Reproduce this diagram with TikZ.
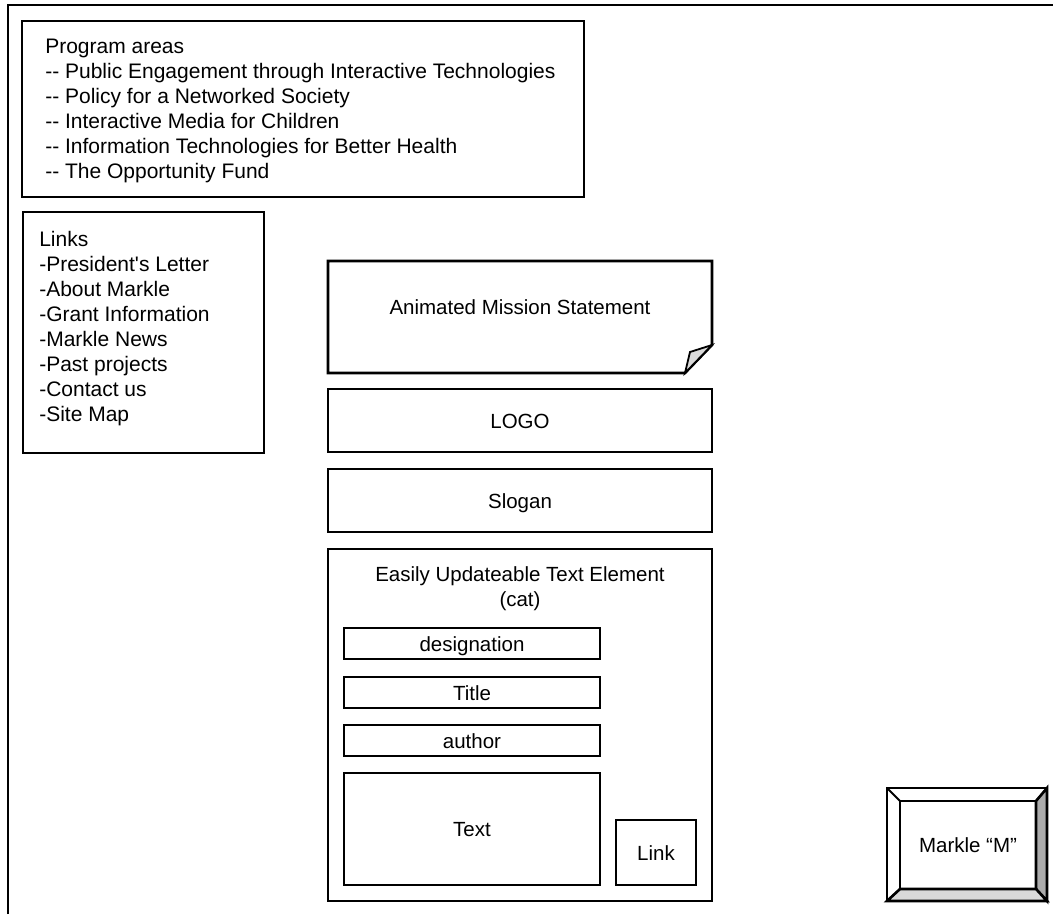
\documentclass[tikz,border=0pt]{standalone}
\usepackage{fontspec}
\setmainfont{Liberation Sans}[Ligatures=TeXOff]
\usetikzlibrary{positioning}
\definecolor{bevelgray}{gray}{0.67}
\definecolor{foldgray}{gray}{0.85}

\begin{document}
\begin{tikzpicture}[x=1pt, y=-1pt, line width=2.6pt,
		box/.style={
			draw,
			rectangle,
			inner sep=0pt,
			outer sep=0pt
		},
		cell/.style={box, text height=15pt, text depth=0pt},
		caption/.style={inner sep=0pt, align=center},
		listfont/.style={font=\fontsize{21}{25}\selectfont},
		every node/.style={font=\fontsize{20.5}{25}\selectfont}]
		\useasboundingbox (0,0) rectangle (1053,914);
		
		\draw (8,914) -- (8,5) -- (1053,5);	% page frame
		
		\node[box, minimum width=562pt, minimum height=176pt] (areas) at (303,109) {};
		\node[caption, listfont, align=left, below right=17pt and 22pt of areas.north west] (arealist) {Program areas\\-- Public Engagement through Interactive Technologies\\-- Policy for a Networked Society\\-- Interactive Media for Children\\-- Information Technologies for Better Health\\-- The Opportunity Fund};
		
		\node[box, minimum width=241pt, minimum height=241pt] (links) at (143.5,332.5) {};
		\node[caption, listfont, align=left, below right=18pt and 15pt of links.north west] (linklist) {Links\\-President's Letter\\-About Markle\\-Grant Information\\-Markle News\\-Past projects\\-Contact us\\-Site Map};
		
		% mission statement, folded corner
		\node[box, draw=none, minimum width=384pt, minimum height=112pt] (mission) at (520,317) {};
		\draw (mission.north west) -- (mission.north east) -- ([yshift=28pt]mission.south east) -- ([xshift=-27pt]mission.south east) -- (mission.south west) -- cycle;
		\draw[fill=foldgray, line width=1.8pt] ([yshift=28pt]mission.south east) -- ([xshift=-22pt, yshift=21pt]mission.south east) -- ([xshift=-27pt]mission.south east) -- cycle;
		\node[caption, below=37pt of mission.north] (missiontext) {Animated Mission Statement};
		
		\node[cell, minimum width=384pt, minimum height=63pt] (logo) at (520,420.5) {LOGO};
		\node[cell, minimum width=384pt, minimum height=63pt] (slogan) at (520,500.5) {Slogan};
		
		% text element
		\node[box, minimum width=384pt, minimum height=352pt] (cat) at (520,725) {};
		\node[caption, below=16pt of cat.north] (cattitle) {Easily Updateable Text Element\\(cat)};
		\node[cell, minimum width=256pt, minimum height=31pt] (designation) at (472,643.5) {designation};
		\node[cell, minimum width=256pt, minimum height=31pt] (title) at (472,692.5) {Title};
		\node[cell, minimum width=256pt, minimum height=31pt] (author) at (472,740.5) {author};
		\node[cell, minimum width=256pt, minimum height=112pt] (textbox) at (472,829) {Text};
		\node[cell, minimum width=80pt, minimum height=65pt] (link) at (656,852.5) {Link};
		
		% bevelled button
		\node[box, minimum width=160pt, minimum height=113pt] (markle) at (967,844.5) {};
		\node[cell, minimum width=136pt, minimum height=88pt] (markleface) at (968,845) {Markle “M”};
		\draw[fill=bevelgray] (markle.north east) -- (markle.south east) -- (markleface.south east) -- (markleface.north east) -- cycle;
		\draw[fill=foldgray] (markle.south west) -- (markle.south east) -- (markleface.south east) -- (markleface.south west) -- cycle;
		\draw[line width=1.8pt] (markle.north west) -- (markleface.north west);
		\draw[line width=1.8pt] (markle.north east) -- (markleface.north east);
		\draw[line width=1.8pt] (markle.south west) -- (markleface.south west);
	\end{tikzpicture}
\end{document}
